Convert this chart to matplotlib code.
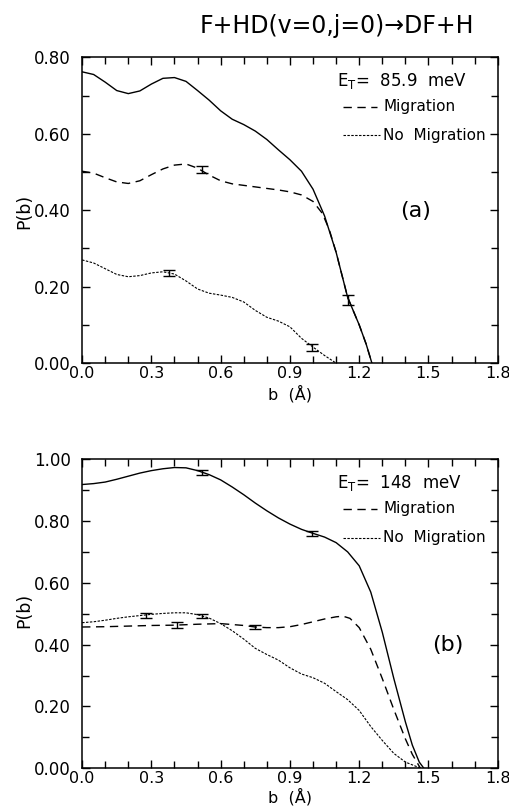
import numpy as np
import matplotlib.pyplot as plt

# impact parameter b (Angstrom) and opacity P(b), panel (a): E_T = 85.9 meV
b_tot_a = [0.00, 0.05, 0.10, 0.15, 0.20, 0.25, 0.30, 0.35, 0.40, 0.45, 0.50, 0.55,
           0.60, 0.65, 0.70, 0.75, 0.80, 0.85, 0.90, 0.95, 1.00, 1.05, 1.10, 1.15,
           1.20, 1.23, 1.255]
p_tot_a = [0.762, 0.755, 0.735, 0.713, 0.705, 0.712, 0.730, 0.745, 0.747, 0.737, 0.713, 0.688,
           0.660, 0.638, 0.624, 0.607, 0.585, 0.558, 0.532, 0.502, 0.455, 0.385, 0.290, 0.172,
           0.100, 0.050, 0.0]

b_mig_a = [0.00, 0.05, 0.10, 0.15, 0.20, 0.25, 0.30, 0.35, 0.40, 0.45, 0.50, 0.55,
           0.60, 0.65, 0.70, 0.75, 0.80, 0.85, 0.90, 0.95, 1.00, 1.04, 1.07, 1.10,
           1.15, 1.20, 1.23, 1.255]
p_mig_a = [0.502, 0.497, 0.485, 0.474, 0.470, 0.477, 0.493, 0.508, 0.518, 0.521, 0.510, 0.492,
           0.477, 0.469, 0.465, 0.461, 0.457, 0.453, 0.448, 0.440, 0.423, 0.392, 0.350, 0.290,
           0.172, 0.100, 0.050, 0.0]

b_nomig_a = [0.00, 0.05, 0.10, 0.15, 0.20, 0.25, 0.30, 0.35, 0.40, 0.45, 0.50, 0.55,
             0.60, 0.65, 0.70, 0.75, 0.80, 0.85, 0.90, 0.95, 1.00, 1.05, 1.10]
p_nomig_a = [0.270, 0.262, 0.247, 0.232, 0.226, 0.229, 0.236, 0.239, 0.233, 0.215, 0.194, 0.183,
             0.178, 0.172, 0.160, 0.138, 0.120, 0.110, 0.095, 0.065, 0.042, 0.020, 0.0]

# panel (b): E_T = 148 meV
b_tot_b = [0.00, 0.05, 0.10, 0.15, 0.20, 0.25, 0.30, 0.35, 0.40, 0.45, 0.50, 0.55,
           0.60, 0.65, 0.70, 0.75, 0.80, 0.85, 0.90, 0.95, 1.00, 1.05, 1.10, 1.15,
           1.20, 1.25, 1.30, 1.35, 1.40, 1.43, 1.46, 1.48]
p_tot_b = [0.918, 0.921, 0.926, 0.935, 0.945, 0.955, 0.963, 0.969, 0.973, 0.972, 0.963, 0.950,
           0.933, 0.910, 0.885, 0.858, 0.833, 0.810, 0.790, 0.773, 0.760, 0.748, 0.730, 0.700,
           0.655, 0.570, 0.440, 0.290, 0.150, 0.075, 0.020, 0.0]

b_mig_b = [0.00, 0.10, 0.20, 0.30, 0.40, 0.50, 0.60, 0.70, 0.75, 0.80, 0.85, 0.90,
           0.95, 1.00, 1.05, 1.10, 1.13, 1.16, 1.20, 1.25, 1.30, 1.35, 1.40, 1.43, 1.465]
p_mig_b = [0.457, 0.458, 0.460, 0.462, 0.463, 0.466, 0.468, 0.462, 0.457, 0.455, 0.455, 0.458,
           0.465, 0.474, 0.483, 0.490, 0.492, 0.485, 0.455, 0.385, 0.290, 0.190, 0.095, 0.045, 0.0]

b_nomig_b = [0.00, 0.05, 0.10, 0.15, 0.20, 0.25, 0.30, 0.35, 0.40, 0.45, 0.50, 0.55,
             0.60, 0.65, 0.70, 0.75, 0.80, 0.85, 0.90, 0.95, 1.00, 1.05, 1.10, 1.15,
             1.20, 1.25, 1.30, 1.35, 1.40, 1.45, 1.47]
p_nomig_b = [0.471, 0.474, 0.479, 0.485, 0.490, 0.494, 0.498, 0.501, 0.503, 0.503, 0.497, 0.486,
             0.468, 0.445, 0.418, 0.388, 0.368, 0.350, 0.325, 0.305, 0.293, 0.275, 0.248, 0.222,
             0.187, 0.135, 0.090, 0.048, 0.020, 0.005, 0.0]

# statistical error bars (b, P, half-width)
err_tot_a = ([1.153], [0.165], [0.012])
err_mig_a = ([0.518], [0.506], [0.009])
err_nomig_a = ([0.378, 0.997], [0.236, 0.041], [0.008, 0.008])
err_tot_b = ([0.518, 0.994], [0.958, 0.760], [0.008, 0.008])
err_mig_b = ([0.410, 0.749], [0.463, 0.457], [0.010, 0.007])
err_nomig_b = ([0.277, 0.518], [0.495, 0.492], [0.008, 0.007])

energies = ['85.9', '148']
panel_tags = ['(a)', '(b)']

DASH = (0, (6, 4))
DOT = (0, (2.2, 1.3))

fig = plt.figure(figsize=(5.1, 8.07), dpi=100)
ax_a = fig.add_axes([0.161, 0.550, 0.815, 0.379])
ax_b = fig.add_axes([0.161, 0.048, 0.815, 0.383])

panels = [
    (ax_a, b_tot_a, p_tot_a, b_mig_a, p_mig_a, b_nomig_a, p_nomig_a,
     err_tot_a, err_mig_a, err_nomig_a, 0.8, (0.803, 0.497)),
    (ax_b, b_tot_b, p_tot_b, b_mig_b, p_mig_b, b_nomig_b, p_nomig_b,
     err_tot_b, err_mig_b, err_nomig_b, 1.0, (0.88, 0.398)),
]

for i, (ax, bt, pt, bm, pm, bn, pn, et, em, en, ytop, tagpos) in enumerate(panels):
    ax.plot(bt, pt, color='k', lw=1.0, ls='-')
    ax.plot(bm, pm, color='k', lw=1.0, ls=DASH)
    ax.plot(bn, pn, color='k', lw=0.8, ls=DOT)
    for e in (et, em, en):
        ax.errorbar(e[0], e[1], yerr=e[2], fmt='none', ecolor='k',
                    elinewidth=1.0, capsize=4, capthick=1.0)

    ax.set_xlim(0, 1.8)
    ax.set_ylim(0, ytop)
    ax.set_xticks(np.arange(0, 1.81, 0.3))
    ax.set_xticks(np.arange(0, 1.81, 0.1), minor=True)
    ax.set_yticks(np.arange(0, ytop + 0.01, 0.2))
    ax.set_yticks(np.arange(0, ytop + 0.01, 0.1), minor=True)
    ax.set_xticklabels(['%.1f' % v for v in np.arange(0, 1.81, 0.3)])
    ax.set_yticklabels(['%.2f' % v for v in np.arange(0, ytop + 0.01, 0.2)])
    ax.tick_params(which='both', direction='in', top=True, right=True, width=1.0)
    ax.tick_params(which='major', length=6)
    ax.tick_params(which='minor', length=5)
    ax.tick_params(axis='x', labelsize=11.5, pad=2)
    ax.tick_params(axis='y', labelsize=12, pad=8)
    for s in ax.spines.values():
        s.set_linewidth(1.1)

    ax.set_xlabel('b  (Å)', fontsize=11.5)
    ax.set_ylabel('P(b)', fontsize=12.5)
    ax.xaxis.set_label_coords(0.5, -0.07 if i == 0 else -0.063)
    ax.yaxis.set_label_coords(-0.118, 0.497 if i == 0 else 0.51)

    # in-panel key
    ax.text(0.613, 0.924, r'E$_\mathregular{T}$=  %s  meV' % energies[i],
            transform=ax.transAxes, fontsize=12, va='center', ha='left')
    ax.plot([0.627, 0.709], [0.839, 0.839], transform=ax.transAxes,
            color='k', lw=1.0, ls=DASH)
    ax.text(0.724, 0.839, 'Migration', transform=ax.transAxes,
            fontsize=11, va='center', ha='left')
    ax.plot([0.627, 0.716], [0.745, 0.745], transform=ax.transAxes,
            color='k', lw=0.8, ls=DOT)
    ax.text(0.724, 0.745, 'No  Migration', transform=ax.transAxes,
            fontsize=11, va='center', ha='left')
    ax.text(tagpos[0], tagpos[1], panel_tags[i], transform=ax.transAxes,
            fontsize=16, va='center', ha='center')

fig.text(0.66, 0.968, 'F+HD(v=0,j=0)→DF+H', fontsize=17, ha='center', va='center')

fig.savefig('out.png', dpi=100)
